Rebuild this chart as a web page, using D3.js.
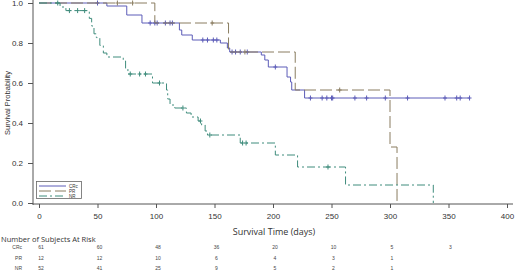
<!DOCTYPE html>
<html>
<head>
<meta charset="utf-8">
<script src="https://cdn.jsdelivr.net/npm/d3@7"></script>
<style>
  body { margin: 0; background: #fff; }
  svg { display: block; font-family: "Liberation Sans", Arial, sans-serif; }
</style>
</head>
<body>
<div id="chart"></div>
<script>
// Kaplan-Meier steps: [day, survival]
var crc_steps = [[0,1],[58,0.985],[75,0.94],[88,0.90],[120,0.865],[122,0.84],[131,0.815],[155,0.80],[161,0.775],[163,0.755],
                 [190,0.74],[193,0.715],[196,0.68],[212,0.63],[215,0.605],[216,0.565],[227,0.525],[368,0.525]];
var pr_steps  = [[0,1],[99,0.90],[162,0.755],[219,0.565],[300,0.28],[306,0]];
var nr_steps  = [[0,1],[18,0.98],[23,0.962],[43,0.923],[45,0.885],[47,0.846],[49,0.827],[52,0.788],[55,0.75],[58,0.73],
                 [72,0.71],[74,0.67],[76,0.645],[97,0.60],[109,0.565],[110,0.52],[112,0.49],[116,0.475],[126,0.45],[130,0.43],
                 [136,0.41],[139,0.39],[142,0.36],[144,0.34],[172,0.30],[202,0.24],[221,0.18],[262,0.09],[337,0]];

// censored times
var crc_censor = [50,95,99,101,108,112,114,140,144,149,152,165,168,172,178,202,232,242,246,250,251,270,280,296,315,347,357,360,368];
var pr_censor  = [67,80,148,176,257];
var nr_censor  = [16,26,33,39,78,86,91,103,123,138,146,174,177,247];

var group_names = ["CRc", "PR", "NR"];
var x_ticks = [0, 50, 100, 150, 200, 250, 300, 350, 400];
var y_ticks = [0, 0.2, 0.4, 0.6, 0.8, 1.0];
var risk_days = [0, 50, 100, 150, 200, 250, 300, 350];
var crc_risk = [61, 60, 48, 36, 20, 10, 5, 3];
var pr_risk  = [12, 12, 10, 6, 4, 3, 1];
var nr_risk  = [52, 41, 25, 9, 5, 2, 1];

var svg = d3.select("#chart").append("svg").attr("width", 520).attr("height", 274);

var x_scale = d3.scaleLinear().domain([0, 400]).range([39, 507]);
var y_scale = d3.scaleLinear().domain([0, 1]).range([203, 3]);

var groups = [
  {name: group_names[0], steps: crc_steps, censor: crc_censor, risk: crc_risk, color: "#5c5cb8", dash: null},
  {name: group_names[1], steps: pr_steps,  censor: pr_censor,  risk: pr_risk,  color: "#8a7d60", dash: "12,4"},
  {name: group_names[2], steps: nr_steps,  censor: nr_censor,  risk: nr_risk,  color: "#3f8c7c", dash: "8,3,2,3"}
];

// axes
var axis_y = d3.axisLeft(y_scale).tickValues(y_ticks).tickFormat(d3.format(".1f")).tickSize(5).tickSizeOuter(0);
var gy = svg.append("g").attr("transform", "translate(33,0)").call(axis_y);
gy.select(".domain").attr("d", "M0,0V205");
var axis_x = d3.axisBottom(x_scale).tickValues(x_ticks).tickSize(4).tickSizeOuter(0);
var gx = svg.append("g").attr("transform", "translate(0,204)").call(axis_x);
gx.select(".domain").attr("d", "M33,0H513");
svg.selectAll(".domain").attr("stroke", "#555");
svg.selectAll(".tick line").attr("stroke", "#555");
svg.selectAll(".tick text").attr("fill", "#333").style("font-size", "8px");
gy.selectAll(".tick text").attr("x", -10);
gx.selectAll(".tick text").attr("y", 9);

svg.append("text").attr("transform", "translate(10,103) rotate(-90)")
   .attr("text-anchor", "middle").style("font-size", "7.5px").attr("fill", "#333")
   .text("Survival Probability");
svg.append("text").attr("x", 274).attr("y", 235)
   .attr("text-anchor", "middle").style("font-size", "9px").attr("fill", "#333")
   .style("font-family", "'Open Sans', sans-serif")
   .text("Survival Time (days)");

// curves
var line = d3.line()
  .x(function(d) { return x_scale(d[0]); })
  .y(function(d) { return y_scale(d[1]); })
  .curve(d3.curveStepAfter);

function level_at(steps, t) {
  var s = steps[0][1];
  steps.forEach(function(p) { if (p[0] <= t) s = p[1]; });
  return s;
}

groups.forEach(function(g) {
  svg.append("path").attr("d", line(g.steps))
     .attr("fill", "none").attr("stroke", g.color).attr("stroke-width", 1)
     .attr("stroke-dasharray", g.dash);
  svg.append("g").selectAll("path").data(g.censor).enter().append("path")
     .attr("d", function(t) {
       var cx = x_scale(t), cy = y_scale(level_at(g.steps, t));
       return "M" + (cx - 2) + "," + cy + "H" + (cx + 2) + "M" + cx + "," + (cy - 2.5) + "V" + (cy + 2.5);
     })
     .attr("stroke", g.color).attr("stroke-width", 1).attr("fill", "none");
});

// legend
var legend = svg.append("g");
legend.append("rect").attr("x", 36.5).attr("y", 181.5).attr("width", 45).attr("height", 17)
      .attr("fill", "#fff").attr("stroke", "#666").attr("stroke-width", 0.8);
groups.forEach(function(g, i) {
  var ly = 186 + i * 5;
  legend.append("line").attr("x1", 39).attr("x2", 66).attr("y1", ly).attr("y2", ly)
        .attr("stroke", g.color).attr("stroke-width", 1).attr("stroke-dasharray", g.dash);
  legend.append("text").attr("x", 69).attr("y", ly + 1.5).style("font-size", "4.5px")
        .attr("fill", "#333").text(g.name);
});

// risk table
svg.append("text").attr("x", 1).attr("y", 242).style("font-size", "7.5px").attr("fill", "#333")
   .style("font-family", "'Open Sans', sans-serif")
   .text("Number of Subjects At Risk");
groups.forEach(function(g, i) {
  var ry = 249 + i * 10.5;
  svg.append("text").attr("x", 22).attr("y", ry).attr("text-anchor", "end")
     .style("font-size", "5px").attr("fill", "#444").text(g.name);
  svg.append("g").selectAll("text").data(g.risk).enter().append("text")
     .attr("x", function(d, j) { return x_scale(risk_days[j]) + 2; })
     .attr("y", ry).attr("text-anchor", "middle")
     .style("font-size", "5px").attr("fill", "#444")
     .text(function(d) { return d; });
});
</script>
</body>
</html>
